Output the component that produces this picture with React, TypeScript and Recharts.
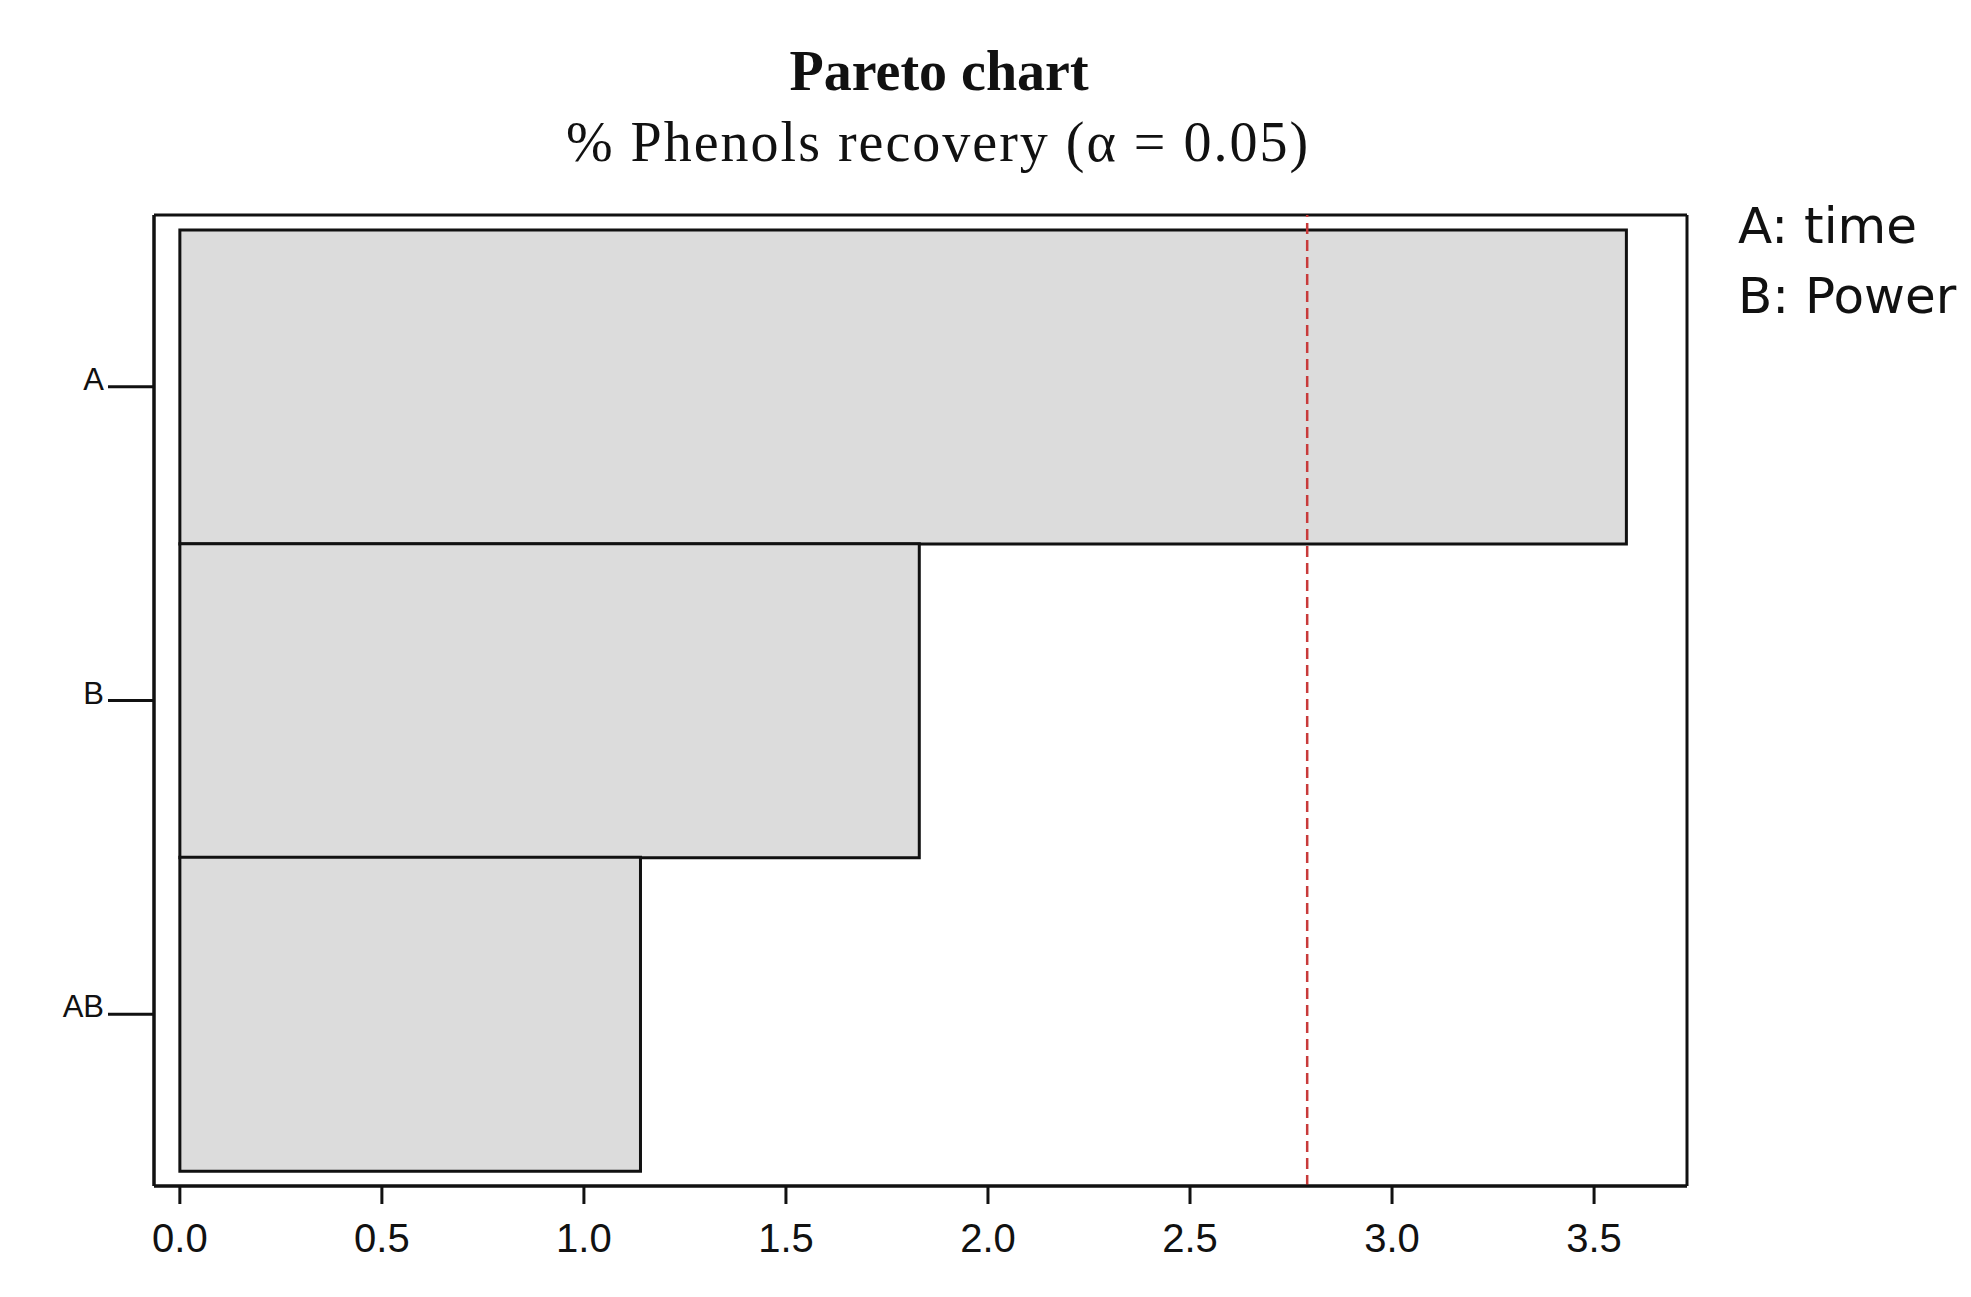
import { BarChart, Bar, XAxis, YAxis, ReferenceLine, CartesianGrid } from "recharts";

// effect labels, top to bottom
const EFFECTS = ["A", "B", "AB"];
// standardized effect sizes
const EFFECT_VALUES = [3.58, 1.83, 1.14];
// critical t value for alpha = 0.05
const T_CRIT = 2.79;
const X_TICKS = [0, 0.5, 1, 1.5, 2, 2.5, 3, 3.5];
const FACTOR_NAMES = ["A: time", "B: Power"];

const data = EFFECTS.map((name, i) => ({ name, value: EFFECT_VALUES[i] }));

const W = 1971;
const H = 1297;
const INK = "#111";

// eslint-disable-next-line @typescript-eslint/no-explicit-any
function EffectTick({ x, y, payload }: any) {
  return (
    <text
      x={x}
      y={y + 3}
      textAnchor="end"
      fontFamily="'Liberation Sans', Arial, sans-serif"
      fontSize={31}
      fill={INK}
    >
      {payload.value}
    </text>
  );
}

export default function App() {
  return (
    <div style={{ position: "absolute", left: 0, top: 0, width: W, height: H, background: "#fff" }}>
      <BarChart
        width={W}
        height={H}
        data={data}
        layout="vertical"
        barCategoryGap={0}
        margin={{ top: 215, right: 284, bottom: 51, left: 54 }}
      >
        {/* plot frame: lines at the edges of the plot area */}
        <CartesianGrid
          stroke={INK}
          strokeWidth={3}
          horizontalCoordinatesGenerator={({ offset }: any) => [offset.top, offset.top + offset.height]}
          verticalCoordinatesGenerator={({ offset }: any) => [offset.left, offset.left + offset.width]}
        />
        <XAxis
          type="number"
          domain={[-0.064, 3.73]}
          ticks={X_TICKS}
          allowDataOverflow
          tickFormatter={(v: number) => v.toFixed(1)}
          height={60}
          tickSize={18}
          tickMargin={20}
          axisLine={{ stroke: INK, strokeWidth: 3 }}
          tickLine={{ stroke: INK, strokeWidth: 3 }}
          tick={{ fill: INK, fontSize: 40, fontFamily: "'Liberation Sans', Arial, sans-serif" }}
        />
        <YAxis
          type="category"
          dataKey="name"
          width={100}
          padding={{ top: 15, bottom: 15 }}
          tickSize={46}
          tickMargin={4}
          axisLine={{ stroke: INK, strokeWidth: 3 }}
          tickLine={{ stroke: INK, strokeWidth: 3 }}
          tick={<EffectTick />}
        />
        <Bar
          dataKey="value"
          fill="#dcdcdc"
          stroke={INK}
          strokeWidth={3}
          isAnimationActive={false}
        />
        <ReferenceLine
          x={T_CRIT}
          stroke="#c83a3a"
          strokeWidth={2.5}
          strokeDasharray="11 6"
        />
      </BarChart>

      <svg
        width={W}
        height={H}
        style={{ position: "absolute", left: 0, top: 0, pointerEvents: "none" }}
      >
        <text
          x={939}
          y={90}
          textAnchor="middle"
          fontFamily="'Liberation Serif', 'Times New Roman', serif"
          fontWeight="bold"
          fontSize={56}
          fill={INK}
        >
          Pareto chart
        </text>
        <text
          x={938}
          y={161}
          textAnchor="middle"
          fontFamily="'Liberation Serif', 'Times New Roman', serif"
          fontSize={56}
          letterSpacing={2}
          fill={INK}
        >
          % Phenols recovery (α = 0.05)
        </text>
        {FACTOR_NAMES.map((f, i) => (
          <text
            key={f}
            x={1738}
            y={243 + i * 70}
            fontFamily="'DejaVu Sans', sans-serif"
            fontSize={50}
            fill={INK}
          >
            {f}
          </text>
        ))}
      </svg>
    </div>
  );
}
